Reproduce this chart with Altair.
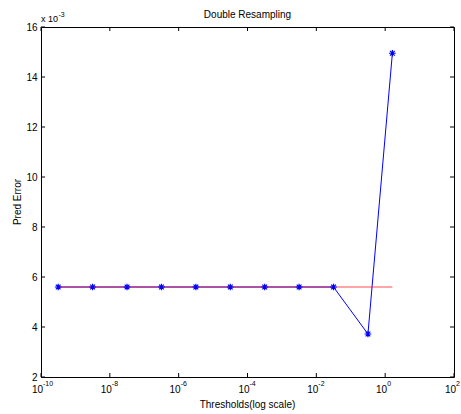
import altair as alt
import pandas as pd

# Prediction error vs. threshold (double resampling)
thresholds = [3.16e-10, 3.16e-9, 3.16e-8, 3.16e-7, 3.16e-6, 3.16e-5,
              3.16e-4, 3.16e-3, 3.16e-2, 0.316, 1.62]
pred_error = [0.0056, 0.0056, 0.0056, 0.0056, 0.0056, 0.0056,
              0.0056, 0.0056, 0.0056, 0.00372, 0.01495]
baseline_error = 0.0056

x_tick_exps = [-10, -8, -6, -4, -2, 0, 2]
y_ticks = [0.002, 0.004, 0.006, 0.008, 0.010, 0.012, 0.014, 0.016]

W, H = 413, 350
FONT = "Liberation Sans"

df = pd.DataFrame({"t": thresholds, "err": pred_error})
base_df = pd.DataFrame({"t": [thresholds[0], thresholds[-1]],
                        "err": [baseline_error, baseline_error]})
xt = pd.DataFrame({"t": [10.0 ** e for e in x_tick_exps],
                   "exp": [str(e) for e in x_tick_exps]})
yt = pd.DataFrame({"err": y_ticks})

xs = alt.Scale(type="log", domain=[1e-10, 1e2], nice=False)
ys = alt.Scale(domain=[0.002, 0.016], nice=False, zero=False)

X = alt.X("t:Q", scale=xs, axis=None)
Y = alt.Y("err:Q", scale=ys,
          axis=alt.Axis(values=y_ticks, labelExpr="format(datum.value*1000, 'd')",
                        ticks=False, domain=False, grid=False, title=None,
                        labelFont=FONT, labelFontSize=10, labelColor="#000",
                        labelPadding=4))

blue = alt.Chart(df).mark_line(color="#0000ff", strokeWidth=1).encode(x=X, y=Y)
red = alt.Chart(base_df).mark_line(color="#ff0000", strokeWidth=1, opacity=0.7).encode(x=X, y=Y)
asterisk = "M-1,0L1,0M0,-1L0,1M-0.7,-0.7L0.7,0.7M-0.7,0.7L0.7,-0.7"
stars = alt.Chart(df).mark_point(shape=asterisk, size=45, color="#0000ff",
                                 filled=False, strokeWidth=1.2, opacity=1).encode(x=X, y=Y)

# inward ticks on all four sides
xb = alt.Chart(xt).mark_rule(color="#000").encode(x=X, y=alt.value(H), y2=alt.value(H - 4))
xtop = alt.Chart(xt).mark_rule(color="#000").encode(x=X, y=alt.value(0), y2=alt.value(4))
yl = alt.Chart(yt).mark_rule(color="#000").encode(y=Y, x=alt.value(0), x2=alt.value(4))
yr = alt.Chart(yt).mark_rule(color="#000").encode(y=Y, x=alt.value(W), x2=alt.value(W - 4))

# x tick labels as 10 with superscript exponent
x_ten = alt.Chart(xt).mark_text(text="10", font=FONT, fontSize=10, align="right",
                                baseline="alphabetic", dx=2, color="#000").encode(
    x=X, y=alt.value(H + 16))
x_exp = alt.Chart(xt).mark_text(font=FONT, fontSize=7, align="left",
                                baseline="alphabetic", dx=2, color="#000").encode(
    x=X, y=alt.value(H + 8.5), text="exp:N")

def label(txt, x, y, size=10, align="left", angle=0):
    return alt.Chart(pd.DataFrame({"s": [txt]})).mark_text(
        font=FONT, fontSize=size, align=align, baseline="alphabetic",
        angle=angle, color="#000").encode(text="s:N", x=alt.value(x), y=alt.value(y))

title = label("Double Resampling", W / 2, -9, align="center")
xtitle = label("Thresholds(log scale)", W / 2, H + 31, align="center")
ytitle = alt.Chart(pd.DataFrame({"s": ["Pred Error"]})).mark_text(
    font=FONT, fontSize=10, align="center", baseline="middle", angle=270,
    color="#000").encode(text="s:N", x=alt.value(-23), y=alt.value(H / 2))
mult = label("x 10", 0, -5, size=9)
mult_exp = label("-3", 17.5, -10, size=7)

chart = alt.layer(
    blue, red, stars, xb, xtop, yl, yr, x_ten, x_exp,
    title, xtitle, ytitle, mult, mult_exp
).properties(
    width=W, height=H,
    autosize=alt.AutoSizeParams(type="none"),
    padding={"left": 41, "top": 27, "right": 7, "bottom": 37},
    background="white",
).configure_view(stroke="#000", strokeWidth=1)

chart.save("out.html", embed_options={"renderer": "svg", "actions": False})
